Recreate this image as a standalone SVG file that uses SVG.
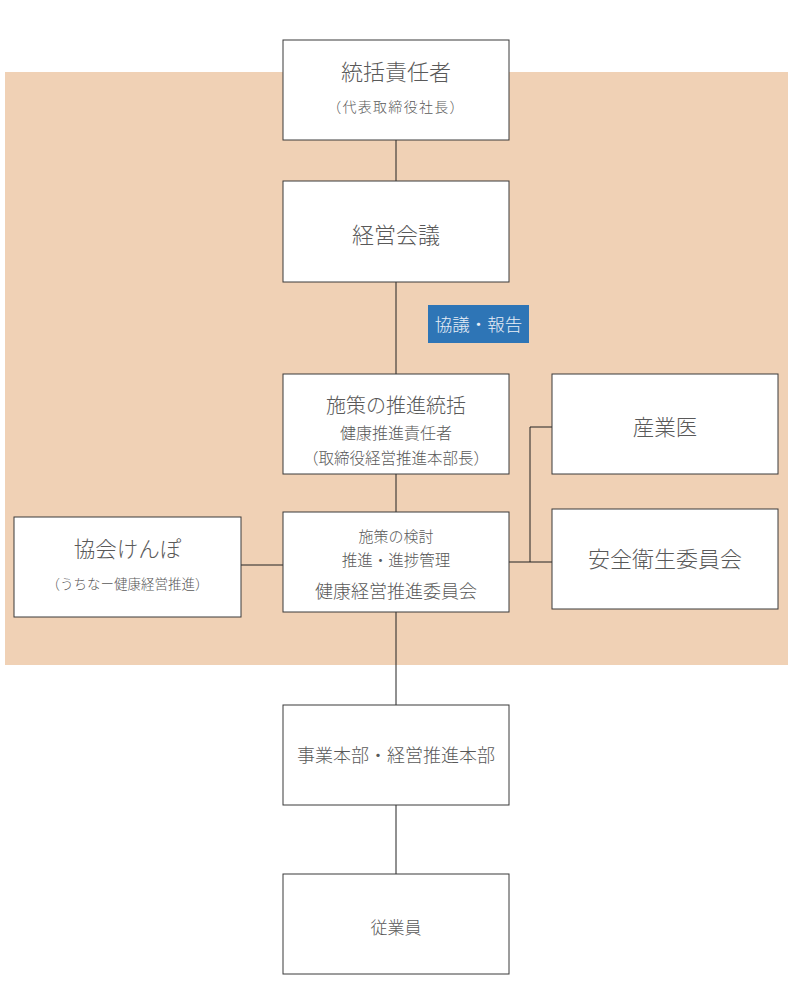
<svg xmlns="http://www.w3.org/2000/svg" width="800" height="1000" viewBox="0 0 800 1000">
<style>
.box{fill:#fff;stroke:#3a3a3a;stroke-width:1}
.t{font-family:"Noto Sans CJK JP","Noto Sans",sans-serif;fill:#595959;text-anchor:middle;font-weight:300}
.c{stroke:#222;stroke-width:1;fill:none}
</style>
<rect x="5" y="72" width="783" height="593" fill="#F0D1B5"/>
<g id="connectors">
<line class="c" x1="396" y1="140" x2="396" y2="181"/>
<line class="c" x1="396" y1="282" x2="396" y2="374"/>
<line class="c" x1="396" y1="474" x2="396" y2="512"/>
<line class="c" x1="396" y1="612" x2="396" y2="705"/>
<line class="c" x1="396" y1="805" x2="396" y2="874"/>
<line class="c" x1="241" y1="565" x2="283" y2="565"/>
<line class="c" x1="509" y1="562" x2="552" y2="562"/>
<polyline class="c" points="530,562 530,427 552,427"/>
</g>
<g id="label">
<rect x="428" y="305" width="101" height="38" fill="#2E75B6"/>
<text class="t" x="478.5" y="331" font-size="17.5" style="fill:#e8eef6">協議・報告</text>
</g>
<g id="n1">
<rect class="box" x="283" y="40" width="226" height="100"/>
<text class="t" x="396" y="80" font-size="22">統括責任者</text>
<text class="t" x="396" y="112" font-size="14" letter-spacing="1.3">（代表取締役社長）</text>
</g>
<g id="n2">
<rect class="box" x="283" y="181" width="226" height="101"/>
<text class="t" x="396" y="243" font-size="22">経営会議</text>
</g>
<g id="n3">
<rect class="box" x="283" y="374" width="226" height="100"/>
<text class="t" x="396" y="413" font-size="20">施策の推進統括</text>
<text class="t" x="396" y="439" font-size="16">健康推進責任者</text>
<text class="t" x="396" y="464" font-size="15.5">（取締役経営推進本部長）</text>
</g>
<g id="n4">
<rect class="box" x="283" y="512" width="226" height="100"/>
<text class="t" x="396" y="542" font-size="15">施策の検討</text>
<text class="t" x="396" y="566" font-size="15.5">推進・進捗管理</text>
<text class="t" x="396" y="598" font-size="18">健康経営推進委員会</text>
</g>
<g id="n5">
<rect class="box" x="14" y="517" width="227" height="100"/>
<text class="t" x="127.5" y="557" font-size="21.5">協会けんぽ</text>
<text class="t" x="127.5" y="589" font-size="13.5">（うちなー健康経営推進）</text>
</g>
<g id="n6">
<rect class="box" x="552" y="374" width="226" height="100"/>
<text class="t" x="665" y="435" font-size="21.5">産業医</text>
</g>
<g id="n7">
<rect class="box" x="552" y="509" width="226" height="100"/>
<text class="t" x="665" y="567" font-size="22">安全衛生委員会</text>
</g>
<g id="n8">
<rect class="box" x="283" y="705" width="226" height="100"/>
<text class="t" x="396" y="762" font-size="18">事業本部・経営推進本部</text>
</g>
<g id="n9">
<rect class="box" x="283" y="874" width="226" height="100"/>
<text class="t" x="396" y="934" font-size="17">従業員</text>
</g>
</svg>
